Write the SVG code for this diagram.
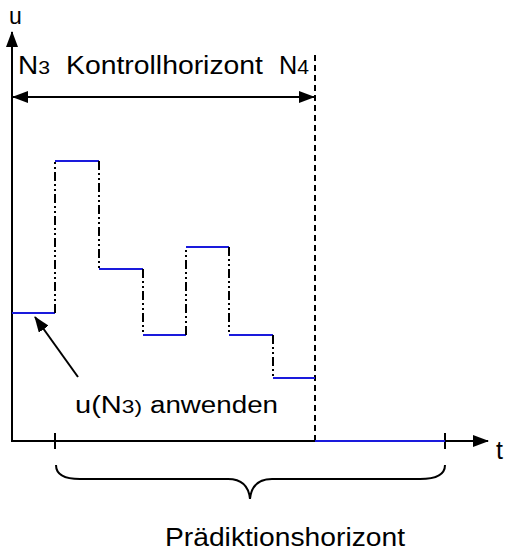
<svg xmlns="http://www.w3.org/2000/svg" width="515" height="552" viewBox="0 0 515 552">
<style>
.ax{stroke:#000;stroke-width:2;fill:none}
.bl{stroke:#1a1adc;stroke-width:2;fill:none}
.dd{stroke:#000;stroke-width:2;fill:none;stroke-dasharray:9,3,2,3,2,3}
.ds{stroke:#000;stroke-width:2;fill:none;stroke-dasharray:6,4}
text{font-family:"Liberation Sans",Arial,sans-serif;fill:#000}
</style>
<defs>
<marker id="ah" viewBox="0 0 16 12" refX="15" refY="6" markerWidth="16" markerHeight="12" markerUnits="userSpaceOnUse" orient="auto-start-reverse">
<path d="M0,0 L16,6 L0,12 Z" fill="#000"/>
</marker>
</defs>
<rect width="515" height="552" fill="#fff"/>
<g id="connectors">
<line id="y-axis" class="ax" x1="12" y1="442" x2="12" y2="32" marker-end="url(#ah)"/>
<line id="x-axis" class="ax" x1="12" y1="441" x2="488" y2="441" marker-end="url(#ah)"/>
<line id="horizon-end" class="ds" x1="315" y1="55" x2="315" y2="441"/>
<line id="control-arrow" class="ax" x1="13" y1="97" x2="314" y2="97" marker-start="url(#ah)" marker-end="url(#ah)"/>
<line id="pointer" class="ax" x1="78" y1="377" x2="35" y2="317" marker-end="url(#ah)"/>
<line class="ax" x1="55" y1="433" x2="55" y2="449"/>
<line class="ax" x1="445" y1="433" x2="445" y2="449"/>
<path id="brace" class="ax" stroke-width="1.6" d="M56,465 Q56,479 80,479 L228,479 Q248,479 250,499 Q252,479 272,479 L420,479 Q445,479 445,465"/>
</g>
<g id="signal">
<path class="bl" d="M12,313 H55 M55,161 H99 M99,269 H143 M143,335 H186 M186,247 H229 M229,335 H273 M273,378 H315 M315,441 H445"/>
<path class="dd" d="M55,313 V161 M99,161 V269 M143,269 V335 M186,335 V247 M229,247 V335 M273,335 V378"/>
</g>
<g id="labels">
<text x="9" y="24" font-size="23">u</text>
<text x="496" y="459" font-size="25">t</text>
<text x="18" y="74" font-size="25" textLength="32" lengthAdjust="spacingAndGlyphs">N<tspan font-size="19">3</tspan></text>
<text x="66" y="74" font-size="25" textLength="197" lengthAdjust="spacingAndGlyphs">Kontrollhorizont</text>
<text x="279" y="74" font-size="25" textLength="30" lengthAdjust="spacingAndGlyphs">N<tspan font-size="21">4</tspan></text>
<text x="75" y="413" font-size="23" textLength="67" lengthAdjust="spacingAndGlyphs">u(N<tspan font-size="18">3)</tspan></text>
<text x="150" y="413" font-size="23" textLength="128" lengthAdjust="spacingAndGlyphs">anwenden</text>
<text x="165" y="546" font-size="26" textLength="240" lengthAdjust="spacingAndGlyphs">Prädiktionshorizont</text>
</g>
</svg>
